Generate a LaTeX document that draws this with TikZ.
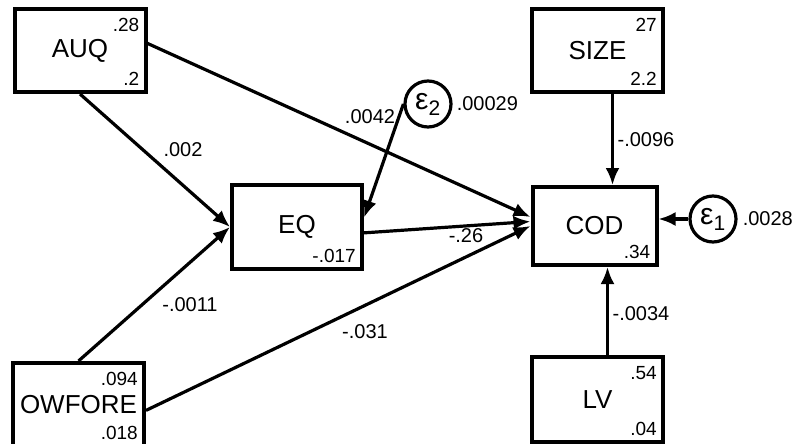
\documentclass[tikz,border=0pt]{standalone}
\usepackage{fontspec}
\setmainfont{Liberation Sans}
\usetikzlibrary{arrows.meta}
\usetikzlibrary{positioning}

\begin{document}
\begin{tikzpicture}
        [x=1pt,y=-1pt,
          varbox/.style={rectangle,draw,line width=4pt,minimum width=131pt,minimum height=83pt,
            inner sep=0pt,font=\fontsize{26}{26}\selectfont},
          errcirc/.style={circle,draw,line width=3.2pt,minimum size=46pt,inner sep=0pt,
            font=\fontsize{30}{30}\selectfont},
          coef/.style={inner sep=0pt,font=\fontsize{20}{20}\selectfont},
          every label/.style={inner sep=0pt,font=\fontsize{19}{19}\selectfont},
          topval/.style={label={[anchor=north east,xshift=-8pt,yshift=-11pt]north east:#1}},
          botval/.style={label={[anchor=south east,xshift=-8pt,yshift=8pt]south east:#1}},
          arr/.style={line width=3.2pt,-{Latex[length=17pt,width=14pt]}}]
        \useasboundingbox (0,0) rectangle (800,444);
        % variables
        \node[varbox,topval=.28,botval=.2] (AUQ) at (80,50.5) {AUQ};
        \node[varbox,topval=27,botval=2.2] (SIZE) at (597.5,50.5) {SIZE};
        \node[varbox,minimum width=130pt,minimum height=84pt,botval=-.017] (EQ) at (297,227) {EQ};
        \node[varbox,minimum width=124pt,minimum height=78pt,botval=.34] (COD) at (594.5,226) {COD};
        \node[varbox,minimum height=85pt,topval=.54,botval=.04] (LV) at (597.5,399.5) {LV};
        \node[varbox,topval=.094,botval=.018] (OWFORE) at (78.5,404.5) {OWFORE};
        % errors
        \node[errcirc,label={[coef,anchor=west,xshift=5pt]east:.0028}] (eps1) at (713,219) {ε\textsubscript{1}};
        \node[errcirc,label={[coef,anchor=west,xshift=4pt]east:.00029}] (eps2) at (428,104) {ε\textsubscript{2}};
        % paths
        \foreach \from/\to in {AUQ.south/EQ.west,OWFORE.north/EQ.west,AUQ.6/COD.172,
            EQ.-5/COD.176,OWFORE.-5/COD.west,eps2.west/EQ.8}
        \draw[arr] (\from) -- (\to);
        \draw[arr] ([xshift=15pt]SIZE.south) -- ([xshift=15pt]SIZE.south |- COD.north);
        \draw[arr] ([xshift=10pt]LV.north) -- ([xshift=10pt]LV.north |- COD.south);
        \draw[arr] (eps1.west) -- (eps1.west -| COD.east);
        % coefficients
        \node[coef] (c1) at (183,150) {.002};
        \node[coef] (c2) at (370,117) {.0042};
        \node[coef] (c3) at (646,140) {-.0096};
        \node[coef] (c4) at (466,236) {-.26};
        \node[coef] (c5) at (190,305) {-.0011};
        \node[coef] (c6) at (365,332) {-.031};
        \node[coef] (c7) at (641,314) {-.0034};
      \end{tikzpicture}
\end{document}
